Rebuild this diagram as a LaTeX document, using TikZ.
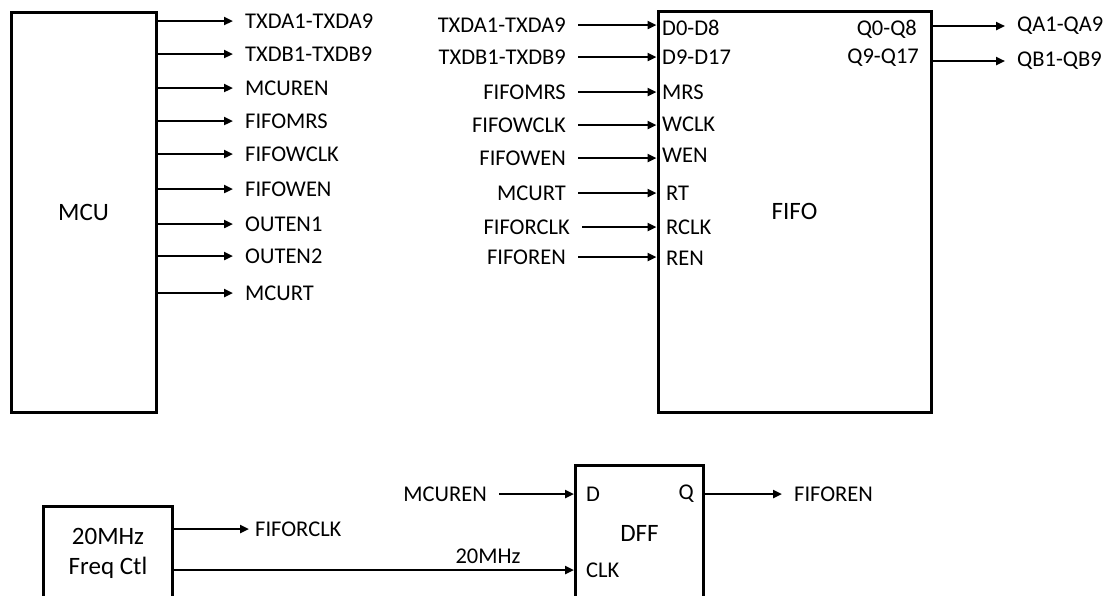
\documentclass[tikz,border=0pt]{standalone}
\usepackage{fontspec}
\setmainfont{Carlito}
\usetikzlibrary{arrows.meta, positioning}
\newcommand{\pinfont}{\fontsize{22.5}{27}\selectfont}
\newcommand{\blockfont}{\fontsize{25}{30}\selectfont}

\begin{document}
\begin{tikzpicture}[
    x=1pt, y=-1pt,
    block/.style={rectangle, draw, line width=3pt, font=\blockfont, align=center, inner sep=0pt},
    pin/.style={inner sep=0pt, font=\pinfont},
    sig/.style={inner xsep=12pt, inner ysep=0pt, font=\pinfont},
    wire/.style={line width=2.7pt, -{Triangle[length=9pt, width=8pt]}},
]
    \clip (0,0) rectangle (1114,595);

    % blocks
    \node[block, minimum width=145pt, minimum height=400pt] (mcu) at (83.5,212) {MCU};
    \node[block, minimum width=273pt, minimum height=401pt] (fifo) at (794.5,211.5) {FIFO};
    \node[block, minimum width=128pt, minimum height=136pt] (dff) at (639.5,533) {DFF};
    \node[block, minimum width=129pt, minimum height=94pt] (freq) at (108,553) {20MHz\\Freq Ctl};

    % MCU outputs
    \node[sig, anchor=west] (m1) at (233,21) {TXDA1-TXDA9};
    \node[sig, anchor=west] (m2) at (233,54) {TXDB1-TXDB9};
    \node[sig, anchor=west] (m3) at (233,88) {MCUREN};
    \node[sig, anchor=west] (m4) at (233,121) {FIFOMRS};
    \node[sig, anchor=west] (m5) at (233,154) {FIFOWCLK};
    \node[sig, anchor=west] (m6) at (233,189) {FIFOWEN};
    \node[sig, anchor=west] (m7) at (233,224) {OUTEN1};
    \node[sig, anchor=west] (m8) at (233,256) {OUTEN2};
    \node[sig, anchor=west] (m9) at (233,293) {MCURT};
    \draw[wire] (mcu.east |- m1.west) -- (m1.west);
    \draw[wire] (mcu.east |- m2.west) -- (m2.west);
    \draw[wire] (mcu.east |- m3.west) -- (m3.west);
    \draw[wire] (mcu.east |- m4.west) -- (m4.west);
    \draw[wire] (mcu.east |- m5.west) -- (m5.west);
    \draw[wire] (mcu.east |- m6.west) -- (m6.west);
    \draw[wire] (mcu.east |- m7.west) -- (m7.west);
    \draw[wire] (mcu.east |- m8.west) -- (m8.west);
    \draw[wire] (mcu.east |- m9.west) -- (m9.west);

    % FIFO pins
    \node[pin, anchor=west] (d0) at (662,28) {D0-D8};
    \node[pin, anchor=west] (d9) at (662,57) {D9-D17};
    \node[pin, anchor=west] (mrs) at (662,92) {MRS};
    \node[pin, anchor=west] (wclk) at (662,124) {WCLK};
    \node[pin, anchor=west] (wen) at (662,155) {WEN};
    \node[pin, anchor=west] (rt) at (666,193) {RT};
    \node[pin, anchor=west] (rclk) at (666,227) {RCLK};
    \node[pin, anchor=west] (ren) at (666,258) {REN};
    \node[pin, anchor=east] (q0) at (917,29) {Q0-Q8};
    \node[pin, anchor=east] (q9) at (919,58) {Q9-Q17};

    % FIFO inputs
    \node[sig, anchor=east] (f1) at (578,25) {TXDA1-TXDA9};
    \node[sig, anchor=east] (f2) at (578,57) {TXDB1-TXDB9};
    \node[sig, anchor=east] (f3) at (578,92) {FIFOMRS};
    \node[sig, anchor=east] (f4) at (578,125) {FIFOWCLK};
    \node[sig, anchor=east] (f5) at (578,158) {FIFOWEN};
    \node[sig, anchor=east] (f6) at (578,193) {MCURT};
    \node[sig, anchor=east] (f7) at (582,227) {FIFORCLK};
    \node[sig, anchor=east] (f8) at (578,257) {FIFOREN};
    \draw[wire] (f1.east) -- (fifo.west |- f1.east);
    \draw[wire] (f2.east) -- (fifo.west |- f2.east);
    \draw[wire] (f3.east) -- (fifo.west |- f3.east);
    \draw[wire] (f4.east) -- (fifo.west |- f4.east);
    \draw[wire] (f5.east) -- (fifo.west |- f5.east);
    \draw[wire] (f6.east) -- (fifo.west |- f6.east);
    \draw[wire] (f7.east) -- (fifo.west |- f7.east);
    \draw[wire] (f8.east) -- (fifo.west |- f8.east);

    % FIFO outputs
    \node[sig, anchor=west] (qa) at (1005,26) {QA1-QA9};
    \node[sig, anchor=west] (qb) at (1005,61) {QB1-QB9};
    \draw[wire] (fifo.east |- qa.west) -- (qa.west);
    \draw[wire] (fifo.east |- qb.west) -- (qb.west);

    % clock and DFF
    \node[pin, anchor=west] (dpin) at (586,494) {D};
    \node[pin, anchor=west] (clkpin) at (586,570) {CLK};
    \node[pin, anchor=east] (qpin) at (694,494) {Q};
    \node[sig, anchor=west, inner xsep=6pt] (fclk) at (249,529) {FIFORCLK};
    \node[sig, anchor=east] (ren2) at (499,494) {MCUREN};
    \node[sig, anchor=west] (foren) at (782,494) {FIFOREN};
    \draw[wire] (freq.east |- fclk.west) -- (fclk.west);
    \draw[wire] (freq.east |- clkpin.west) -- node[pin, pos=0.785, above=5pt] {20MHz} (dff.west |- clkpin.west);
    \draw[wire] (ren2.east) -- (dff.west |- ren2.east);
    \draw[wire] (dff.east |- foren.west) -- (foren.west);
\end{tikzpicture}
\end{document}
